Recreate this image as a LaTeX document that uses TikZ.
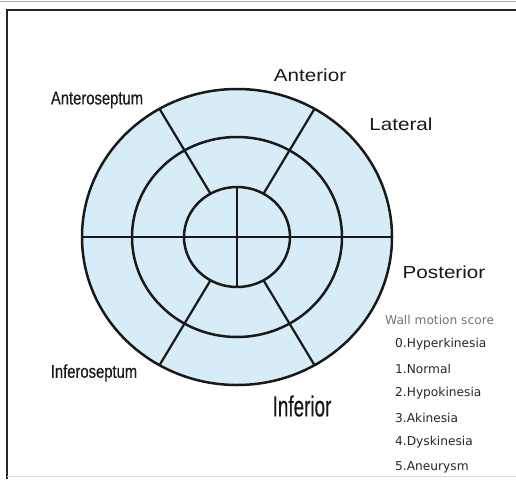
\documentclass[tikz,border=0pt]{standalone}
\usepackage{fontspec}
\usetikzlibrary{calc}
\setmainfont{Liberation Sans}
\newfontfamily\wideface[FakeStretch=1.18]{Liberation Sans}
\newfontfamily\narrowface[FakeStretch=0.8,FakeBold=0.4]{Liberation Sans}
\newfontfamily\tallface[FakeStretch=0.65,FakeBold=0.4]{Liberation Sans}
\newfontfamily\legendface{DejaVu Sans}
\definecolor{segfill}{RGB}{214,236,247}
\tikzset{
    wall/.style={font=\wideface\fontsize{17.5}{20}\selectfont, text=black!90, inner sep=0pt},
    septum/.style={font=\narrowface\fontsize{18.5}{21}\selectfont, text=black!90, inner sep=0pt},
    scoreitem/.style={font=\legendface\fontsize{12.2}{14}\selectfont, text=black!85, inner sep=0pt, anchor=west},
    ring/.style={line width=2.5pt, draw=black!90},
    spoke/.style={line width=2.2pt, draw=black!90},
}
\begin{document}
\begin{tikzpicture}[x=1pt,y=-1pt]
            \useasboundingbox (0,0) rectangle (516,479);
            % frame
            \draw [gray!60, line width=1pt] (0,1) -- (516,1);
            \draw [black!85, line width=1.6pt] (7,479) -- (7,10) -- (516,10);
            \draw [gray!30, line width=0.8pt] (7,476.5) -- (516,476.5);
            % bull's eye
            \coordinate (c) at (237,237);
            \draw [ring, fill=segfill] (c) ellipse [x radius=155, y radius=148];
            \draw [ring] (c) ellipse [x radius=105, y radius=100];
            \draw [ring] (c) ellipse [x radius=53, y radius=50];
            \foreach \a in {60,120,240,300} {
                \draw [spoke] ($(c)+(\a:53 and 50)$) -- ($(c)+(\a:155 and 148)$);
            }
            \draw [spoke] ($(c)+(-155,0)$) -- ($(c)+(155,0)$);
            \draw [spoke] ($(c)+(0,-50)$) -- ($(c)+(0,50)$);
            % segment names
            \node [wall] (anterior) at (310,75) {Anterior};
            \node [wall] (lateral) at (401,124) {Lateral};
            \node [wall] (posterior) at (444,272) {Posterior};
            \node [septum] (anteroseptum) at (97,100) {Anteroseptum};
            \node [septum] (inferoseptum) at (94,373) {Inferoseptum};
            \node [font=\tallface\fontsize{29}{32}\selectfont, text=black!90, inner sep=0pt] (inferior) at (302,406) {Inferior};
            % wall motion score
            \node [scoreitem, text=black!55] (score) at (385,320) {Wall motion score};
            \foreach \i/\t in {0/Hyperkinesia,1/Normal,2/Hypokinesia,3/Akinesia,4/Dyskinesia,5/Aneurysm} {
                \node [scoreitem] (score\i) at (395,344+24.6*\i) {\i.\t};
            }
        \end{tikzpicture}
\end{document}
